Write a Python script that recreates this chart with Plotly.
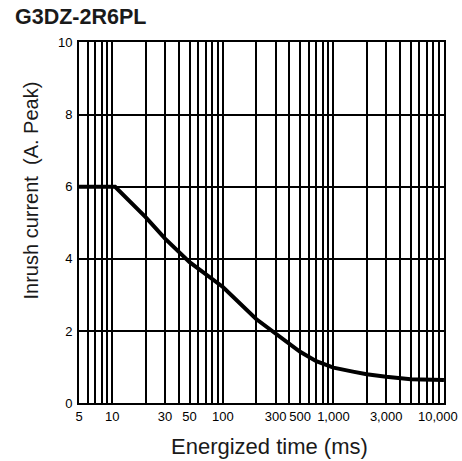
import plotly.graph_objects as go
import numpy as np

# Data
time_ms = [5, 10.6, 20, 30, 50, 100, 200, 300, 400, 500, 700, 1000, 1500, 2000, 3000, 5000, 10000]
current_a = [6.0, 6.0, 5.16, 4.56, 3.91, 3.22, 2.33, 1.94, 1.65, 1.42, 1.16, 0.98, 0.87, 0.80, 0.73, 0.66, 0.64]

grid_x = [5, 6, 7, 8, 9, 10, 20, 30, 40, 50, 60, 70, 80, 90, 100,
          200, 300, 400, 500, 600, 700, 800, 900, 1000,
          2000, 3000, 4000, 5000, 6000, 7000, 8000, 9000, 10000]
labels = {5: "5", 10: "10", 30: "30", 50: "50", 100: "100", 300: "300",
          500: "500", 1000: "1,000", 3000: "3,000"}
last_label = "10,000"   # drawn right-aligned at the edge of the chart
x_ticktext = [labels.get(v, "") for v in grid_x]
y_ticks = [0, 2, 4, 6, 8, 10]

chart_title = "G3DZ-2R6PL"
x_title = "Energized time (ms)"
y_title = "Inrush current\u00a0\u00a0(A. Peak)"

FONT = "Liberation Sans, Arial, sans-serif"

fig = go.Figure()
fig.add_trace(go.Scatter(x=time_ms, y=current_a, mode="lines",
                         line=dict(color="black", width=4), showlegend=False))

W, H = 462, 461
fig.update_layout(
    width=W, height=H,
    margin=dict(l=79, r=18, t=42, b=58, autoexpand=False),
    paper_bgcolor="white", plot_bgcolor="white",
    font=dict(family=FONT, color="black", size=13),
    annotations=[
        dict(text="<b>" + chart_title + "</b>", xref="paper", yref="paper",
             x=0, y=1, xanchor="left", yanchor="middle",
             xshift=-66, yshift=25, showarrow=False,
             font=dict(size=21.5, color="#1a1a1a", family=FONT)),
        dict(text=y_title, xref="paper", yref="paper", x=0, y=0.5,
             xanchor="center", yanchor="middle", textangle=-90,
             xshift=-49, yshift=32, showarrow=False,
             font=dict(size=20, color="#1a1a1a", family=FONT)),
        dict(text=x_title, xref="paper", yref="paper", x=0.5, y=0,
             xanchor="center", yanchor="middle",
             xshift=8, yshift=-43, showarrow=False,
             font=dict(size=22, color="#1a1a1a", family=FONT)),
        dict(text=last_label, xref="paper", yref="paper", x=1, y=0,
             xanchor="right", yanchor="middle",
             xshift=16, yshift=-13, showarrow=False,
             font=dict(size=13, color="black", family=FONT)),
    ],
)
fig.update_xaxes(type="log", range=[np.log10(5) - 0.0005, 4.0005],
                 tickvals=grid_x, ticktext=x_ticktext, ticks="", tickangle=0,
                 automargin=False,
                 showgrid=True, gridcolor="black", gridwidth=1.5,
                 showline=True, linecolor="black", linewidth=2, mirror=True,
                 zeroline=False, tickfont=dict(size=13, family=FONT))
fig.update_yaxes(range=[0, 10.02], tickvals=y_ticks, ticks="", automargin=False,
                 showgrid=True, gridcolor="black", gridwidth=1.5,
                 showline=True, linecolor="black", linewidth=2, mirror=True,
                 zeroline=False, tickfont=dict(size=13, family=FONT),
                 ticklabelstandoff=2)

fig.write_html("out.html", config={"displayModeBar": False},
               post_script="document.body.style.margin='0';")
